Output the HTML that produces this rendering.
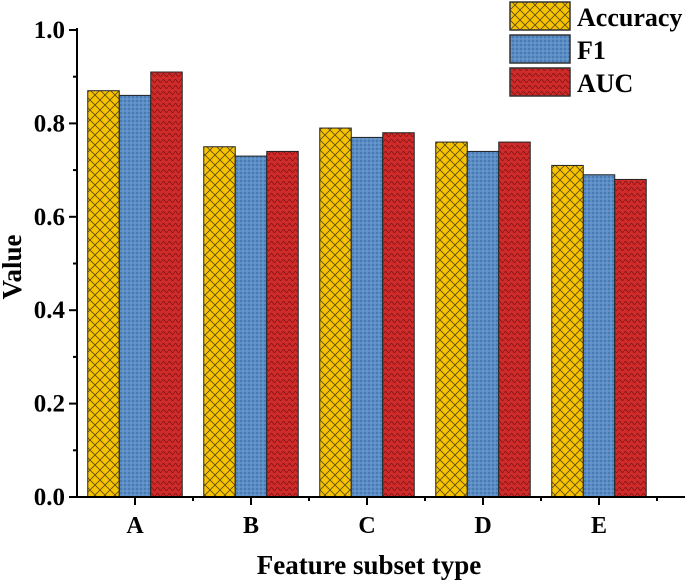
<!DOCTYPE html>
<html><head><meta charset="utf-8"><style>
body{margin:0;background:#fff}
text{font-family:"Liberation Serif",serif;font-weight:bold}
</style></head><body>
<svg id="chart" width="685" height="582" xmlns="http://www.w3.org/2000/svg">
<defs>
<pattern id="pAcc" width="10" height="10" patternUnits="userSpaceOnUse">
<rect width="10" height="10" fill="#f7c300"/>
<path d="M0,0L10,10M10,0L0,10" stroke="#5a4a10" stroke-width="0.8"/>
</pattern>
<pattern id="pF1" width="4" height="4" patternUnits="userSpaceOnUse">
<rect width="4" height="4" fill="#5b8dc6"/>
<circle cx="1" cy="1" r="0.7" fill="#2f5f95"/><circle cx="3" cy="3" r="0.6" fill="#8ab0da"/>
</pattern>
<pattern id="pAUC" width="6" height="6" patternUnits="userSpaceOnUse">
<rect width="6" height="6" fill="#cf2b2b"/>
<path d="M0,3 Q1.5,0 3,3 T6,3" stroke="#7a1010" stroke-width="0.8" fill="none"/>
</pattern>
</defs>
<g id="plot"></g>
</svg>
<script>
const categories=["A","B","C","D","E"];
const accuracy=[0.87,0.75,0.79,0.76,0.71];
const f1=[0.86,0.73,0.77,0.74,0.69];
const auc=[0.91,0.74,0.78,0.76,0.68];
const yTicks=[0,0.2,0.4,0.6,0.8,1.0];
const seriesNames=["Accuracy","F1","AUC"];

const NS="http://www.w3.org/2000/svg";
const g=document.getElementById("plot");
const x0=77,x1=657,y0=497,y1=30;
const step=(x1-x0)/categories.length;
const xC=i=>x0+step*(i+0.5);
const yS=v=>y0-(v/1.0)*(y0-y1);
function el(t,a){const e=document.createElementNS(NS,t);for(const k in a)e.setAttribute(k,a[k]);g.appendChild(e);return e;}
const fills=["url(#pAcc)","url(#pF1)","url(#pAUC)"];
const data=[accuracy,f1,auc];
const bw=31.5;
data.forEach((arr,s)=>{arr.forEach((v,i)=>{
 const r=el("rect",{x:xC(i)-1.5*bw+s*bw,y:yS(v),width:bw,height:y0-yS(v),fill:fills[s],stroke:"#222","stroke-width":1});
 
 
});});
let a=el("line",{x1:x0,y1:y0,x2:685,y2:y0,stroke:"#000","stroke-width":2});

a=el("line",{x1:x0,y1:y1-2,x2:x0,y2:y0,stroke:"#000","stroke-width":2});

yTicks.forEach(v=>{
 el("line",{x1:x0-8,y1:yS(v),x2:x0,y2:yS(v),stroke:"#000","stroke-width":2});
 if(v<1){el("line",{x1:x0-4,y1:yS(v+0.1),x2:x0,y2:yS(v+0.1),stroke:"#000","stroke-width":2});}
 const t=el("text",{x:x0-12,y:yS(v)+8,"text-anchor":"end","font-size":25});t.textContent=v.toFixed(1);
 
});
categories.forEach((c,i)=>{
 el("line",{x1:xC(i),y1:y0,x2:xC(i),y2:y0+8,stroke:"#000","stroke-width":2});
 el("line",{x1:x0+step*(i+1),y1:y0,x2:x0+step*(i+1),y2:y0+4,stroke:"#000","stroke-width":2});
 const t=el("text",{x:xC(i),y:533,"text-anchor":"middle","font-size":24,"font-weight":"normal"});t.textContent=c;
 
});
let t=el("text",{x:369,y:574,"text-anchor":"middle","font-size":27});t.textContent="Feature subset type";

t=el("text",{x:0,y:0,"text-anchor":"middle","font-size":27,transform:"translate(21,267) rotate(-90)"});t.textContent="Value";

seriesNames.forEach((n,s)=>{
 const yy=2+s*33;
 const r=el("rect",{x:510,y:yy,width:60,height:28,fill:fills[s],stroke:"#333","stroke-width":1.5});
 
 const tt=el("text",{x:577,y:yy+24,"font-size":26});tt.textContent=n;
 
});
</script>
</body></html>
